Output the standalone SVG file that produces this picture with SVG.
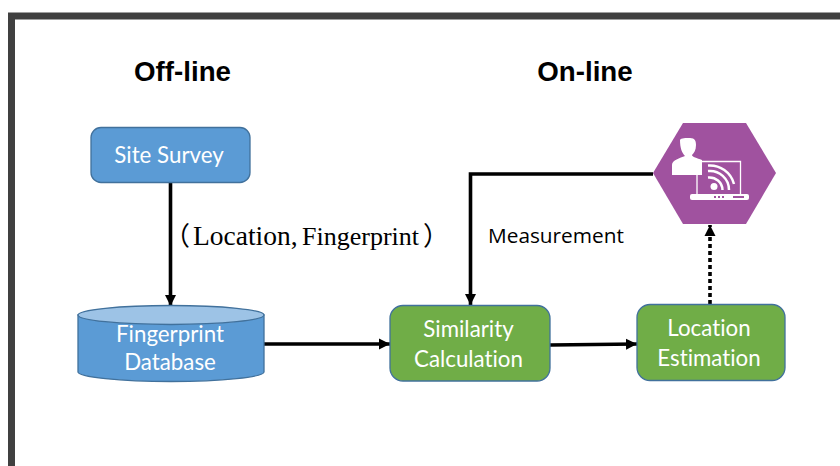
<svg xmlns="http://www.w3.org/2000/svg" width="840" height="466" viewBox="0 0 840 466">
<style>
.h{font:bold 27.700px "Liberation Sans",Arial,sans-serif;fill:#000;text-anchor:middle}
.n{font:22.300px Lato,"Open Sans",sans-serif;fill:#fff;text-anchor:middle;font-variant-ligatures:none}
.b{stroke:#41719c;stroke-width:1.3}
.g{fill:#70ad47}
.c{fill:none;stroke:#000;stroke-width:3.6}
.l{font:20.800px "Open Sans",sans-serif;fill:#000}
.s{font:26px "Liberation Serif","Noto Sans CJK SC",serif;fill:#000}
</style>
<defs>
<marker id="a" markerUnits="userSpaceOnUse" markerWidth="12" markerHeight="12" refX="11" refY="6" orient="auto"><path d="M0,0.5 L11,6 L0,11.5 Z" fill="#000"/></marker>
</defs>
<rect width="840" height="466" fill="#fff"/>
<path id="frame" d="M11.500,466V16H840" fill="none" stroke="#404040" stroke-width="7"/>
<text class="h" x="182.500" y="81">Off-line</text>
<text class="h" x="585" y="81">On-line</text>
<g id="connectors">
<path class="c" marker-end="url(#a)" d="M170.500,182V306"/>
<path class="c" marker-end="url(#a)" d="M264,344H390"/>
<path class="c" marker-end="url(#a)" d="M653,174H470.500V305"/>
<path class="c" marker-end="url(#a)" d="M550,345L637,344"/>
<path class="c" marker-end="url(#a)" stroke-dasharray="4 3" d="M710,304V225"/>
</g>
<g id="site-survey">
<rect class="b" x="91" y="127.500" width="159" height="55" rx="10" fill="#5b9bd5"/>
<text class="n" x="169" y="162.500">Site Survey</text>
</g>
<g id="fingerprint-database">
<path class="b" d="M78,315V372C78,377 120,381.500 171,381.500S264,377 264,372V315Z" fill="#5b9bd5"/>
<ellipse class="b" cx="171" cy="315" rx="93" ry="9.500" fill="#9dc3e6"/>
<text class="n" x="170" y="342">Fingerprint</text>
<text class="n" x="170" y="370">Database</text>
</g>
<text class="s" x="164" y="245">（</text>
<text class="s" x="193" y="245" style="font-size:27.500px">Location,</text>
<text class="s" x="302" y="245">Fingerprint</text>
<text class="s" x="423" y="245">）</text>
<text class="l" x="488" y="243">Measurement</text>
<g id="similarity-calculation">
<rect class="b g" x="390" y="305.500" width="160" height="75.500" rx="13"/>
<text class="n" x="468.500" y="336.500">Similarity</text>
<text class="n" x="468.500" y="366.500">Calculation</text>
</g>
<g id="location-estimation">
<rect class="b g" x="637" y="304.500" width="148" height="76" rx="13"/>
<text class="n" x="709" y="335.500">Location</text>
<text class="n" x="709" y="365.500">Estimation</text>
</g>
<g id="user-device">
<path d="M653,173L683,123H746L776,173L746,224H683Z" fill="#a0529f"/>
<path d="M680,140C681,138 686,138 690,138C695,138 696,141 696,145C696,150 694,153 692,155C692,157 697,158 702,160V175C695,175 680,175 672,175V165C672,160 680,158 685,156C682,153 680,148 680,140Z" fill="#fff"/>
<path d="M697,176V161.500H740.500V194M697,176V194" fill="none" stroke="#fff" stroke-width="1.300"/>
<rect x="690" y="194" width="59" height="6" rx="2" fill="#fff"/>
<circle cx="714" cy="186.500" r="3.500" fill="#fff"/>
<path d="M708,177.500A13,13 0 0 1 722.500,190M708,171A19,19 0 0 1 729,190M708,165.500A25,25 0 0 1 734,184" fill="none" stroke="#fff" stroke-width="2.500"/>
<rect x="714" y="196" width="2" height="2" fill="#a0529f"/><rect x="718" y="196" width="2" height="2" fill="#a0529f"/><rect x="722" y="196" width="2" height="2" fill="#a0529f"/><rect x="733" y="196" width="11" height="2" fill="#a0529f"/>
</g>
</svg>
